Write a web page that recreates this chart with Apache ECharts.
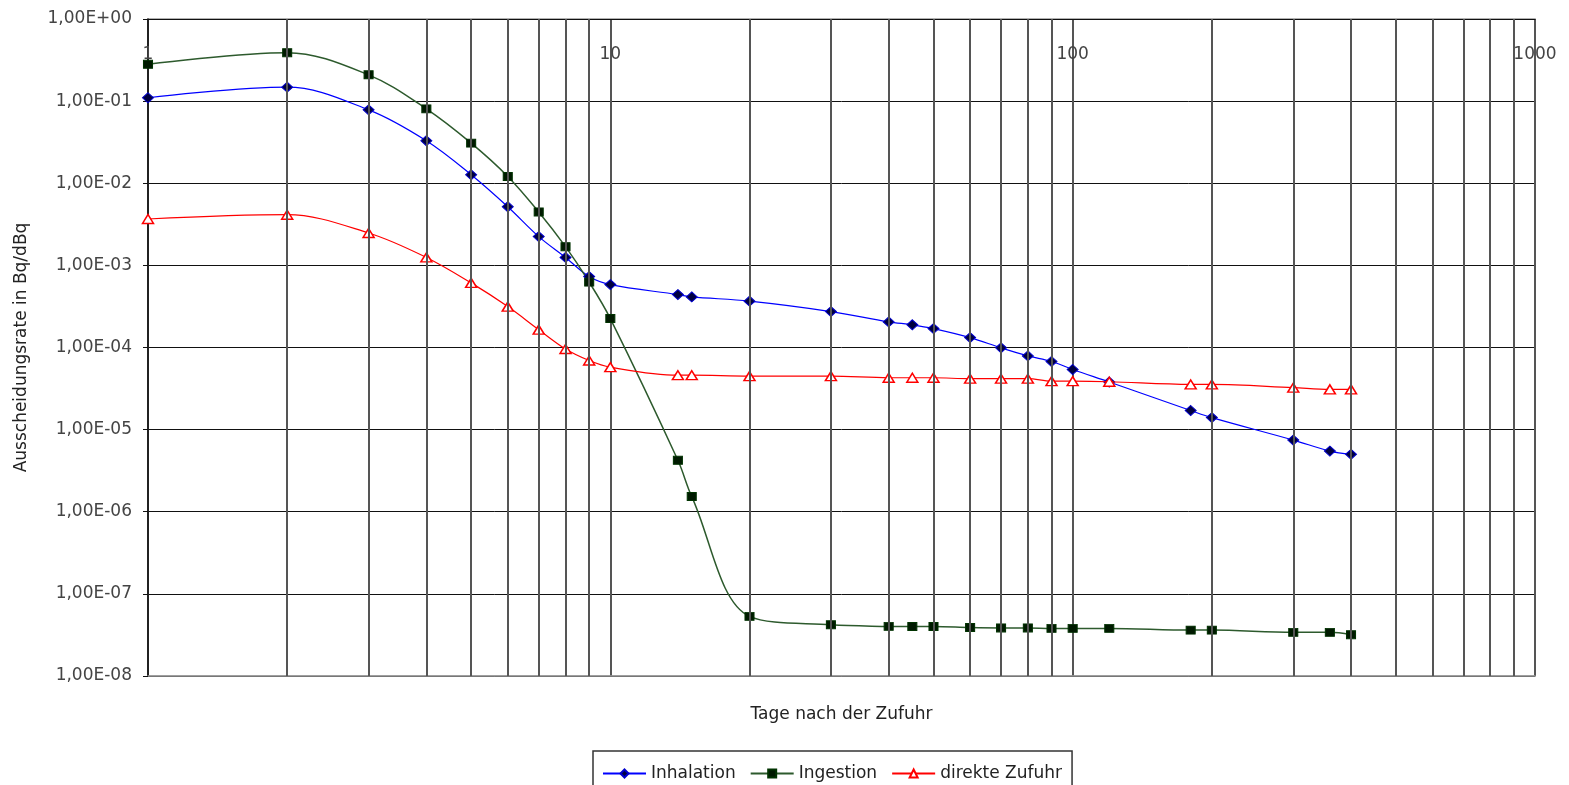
<!DOCTYPE html>
<html>
<head>
<meta charset="utf-8">
<script src="https://cdn.jsdelivr.net/npm/echarts@6/dist/echarts.min.js"></script>
<style>html,body{margin:0;padding:0;background:#fff}#c{width:1569px;height:785px}</style>
</head>
<body>
<div id="c"></div>
<script>
const days = [1,2,3,4,5,6,7,8,9,10,14,15,20,30,40,45,50,60,70,80,90,100,120,180,200,300,360,400];
const inhalation = [0.110,0.148,0.0783,0.0329,0.0127,0.00518,0.00224,0.00125,7.3e-4,5.83e-4,4.41e-4,4.13e-4,3.67e-4,2.74e-4,2.05e-4,1.89e-4,1.70e-4,1.32e-4,9.9e-5,7.9e-5,6.76e-5,5.4e-5,3.8e-5,1.71e-5,1.40e-5,7.46e-6,5.48e-6,5.0e-6];
const ingestion = [0.281,0.389,0.209,0.0805,0.0308,0.0121,0.00447,0.00169,6.25e-4,2.25e-4,4.23e-6,1.53e-6,5.32e-8,4.2e-8,4.02e-8,4.0e-8,4.0e-8,3.89e-8,3.85e-8,3.85e-8,3.8e-8,3.8e-8,3.8e-8,3.62e-8,3.62e-8,3.4e-8,3.4e-8,3.18e-8];
const direkt = [3.67e-3,4.14e-3,2.48e-3,1.25e-3,6.12e-4,3.15e-4,1.65e-4,9.6e-5,6.95e-5,5.76e-5,4.6e-5,4.6e-5,4.48e-5,4.48e-5,4.28e-5,4.28e-5,4.28e-5,4.17e-5,4.17e-5,4.17e-5,3.89e-5,3.89e-5,3.83e-5,3.55e-5,3.55e-5,3.24e-5,3.09e-5,3.09e-5];
const seriesNames = ['Inhalation','Ingestion','direkte Zufuhr'];
const minorGridX = [2,3,4,5,6,7,8,9,20,30,40,50,60,70,80,90,200,300,400,500,600,700,800,900];
const xMin = 1, xMax = 1000, yMin = 1e-8, yMax = 1;

const font = '"DejaVu Sans", "Liberation Sans", Arial, sans-serif';
function fmtY(v){
  const e = Math.round(Math.log10(v));
  const a = Math.abs(e);
  return '1,00E' + (e < 0 ? '-' : '+') + (a < 10 ? '0' + a : a);
}
const fmtX = v => String(Math.round(v));
const pts = arr => days.map((d,i)=>[d, arr[i]]);

const chart = echarts.init(document.getElementById('c'), null, {renderer:'canvas'});
chart.setOption({
  animation:false,
  backgroundColor:'#fff',
  grid:{left:148, right:34, top:19, bottom:109, show:true, borderColor:'#999', borderWidth:1.5},
  xAxis:[{
    type:'log', logBase:10, min:xMin, max:xMax, position:'top',
    axisLine:{show:true, onZero:false, lineStyle:{color:'#111', width:1}},
    axisTick:{show:false},
    axisLabel:{inside:true, margin:27, formatter:fmtX, color:'#444', fontFamily:font, fontSize:17},
    splitLine:{show:true, lineStyle:{color:'#555', width:2}}
  },{
    type:'log', logBase:10, min:xMin, max:xMax, position:'bottom',
    name:'Tage nach der Zufuhr', nameLocation:'middle', nameGap:30,
    nameTextStyle:{color:'#222', fontFamily:font, fontSize:17},
    axisLine:{show:true, onZero:false, lineStyle:{color:'#999', width:1.5}},
    axisTick:{show:false}, axisLabel:{show:false}, splitLine:{show:false}
  }],
  yAxis:{
    type:'log', logBase:10, min:yMin, max:yMax,
    name:'Ausscheidungsrate in Bq/dBq', nameLocation:'middle', nameGap:118, nameRotate:90,
    nameTextStyle:{color:'#222', fontFamily:font, fontSize:17},
    axisLine:{show:true, onZero:false, lineStyle:{color:'#111', width:1.5}},
    axisTick:{show:true, inside:false, length:5, lineStyle:{color:'#111'}},
    axisLabel:{formatter:fmtY, color:'#444', fontFamily:font, fontSize:17, margin:16},
    splitLine:{show:true, lineStyle:{color:'#111', width:1}}
  },
  legend:{
    data:seriesNames, left:593, top:751, orient:'horizontal',
    itemWidth:43, itemHeight:10, itemGap:14,
    borderColor:'#333', borderWidth:1.5, padding:[14,10,12,9],
    textStyle:{color:'#222', fontFamily:font, fontSize:17}
  },
  series:[
    {
      name:'grid', type:'line', data:[], silent:true, z:1,
      markLine:{silent:true, symbol:['none','none'], label:{show:false},
        lineStyle:{color:'#555', width:2, type:'solid'},
        data: minorGridX.map(v=>[{coord:[v,yMin]},{coord:[v,yMax]}])}
    },
    {
      name:seriesNames[0], type:'line', data:pts(inhalation), smooth:0.35, z:3,
      symbol:'diamond', symbolSize:[11,10],
      lineStyle:{color:'#0000ff', width:1.2},
      itemStyle:{color:'#000040', borderColor:'#0000cc', borderWidth:1}
    },
    {
      name:seriesNames[1], type:'line', data:pts(ingestion), smooth:0.35, z:3,
      symbol:'rect', symbolSize:[9,8],
      lineStyle:{color:'#2d5a2d', width:1.5},
      itemStyle:{color:'#001a00', borderColor:'#003300', borderWidth:1}
    },
    {
      name:seriesNames[2], type:'line', data:pts(direkt), smooth:0.35, z:4,
      symbol:'triangle', symbolSize:[11,9],
      lineStyle:{color:'#ff0000', width:1.2},
      itemStyle:{color:'#ffffff', borderColor:'#ff0000', borderWidth:1.5}
    }
  ]
});
</script>
</body>
</html>
